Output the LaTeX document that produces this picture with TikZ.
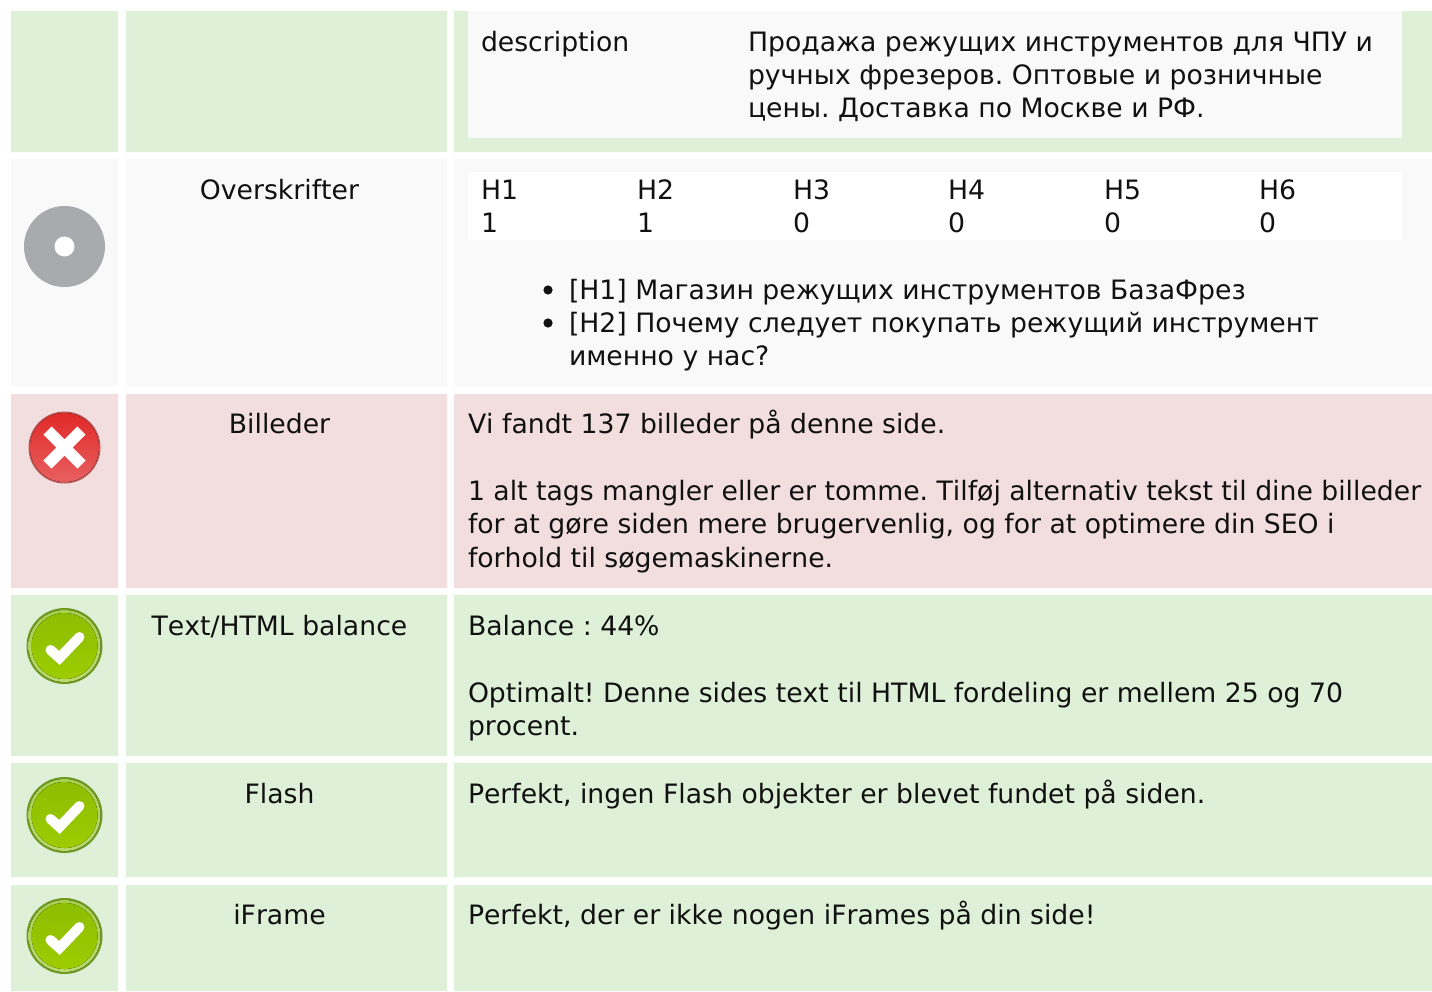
\documentclass[tikz,border=0pt]{standalone}
\usepackage{fontspec}
\setmainfont[Kerning=Off]{DejaVu Sans}
\definecolor{rowgreen}{HTML}{DFF0D8}
\definecolor{rowred}{HTML}{F2DEDE}
\definecolor{rowgrey}{HTML}{F9F9F9}
\definecolor{greydisc}{HTML}{A9AAAE}
\definecolor{txt}{HTML}{111111}
\definecolor{okouter}{HTML}{6E9A22}
\definecolor{okring}{HTML}{A9CF50}
\definecolor{okringb}{HTML}{B8DA70}
\definecolor{oktop}{HTML}{8DBD00}
\definecolor{okbot}{HTML}{9CCC00}
\definecolor{badouter}{HTML}{B85A5A}
\definecolor{badtop}{HTML}{E02A28}
\definecolor{badbot}{HTML}{E86060}
\tikzset{
  x=1pt,y=-1pt,
  txtline/.style={anchor=base west,inner sep=0pt,outer sep=0pt,text=txt,font=\fontsize{26.67}{33.4}\selectfont\frenchspacing},
  head/.style={anchor=base,inner sep=0pt,outer sep=0pt,text=txt,font=\fontsize{26.67}{33.4}\selectfont\frenchspacing},
  okicon/.pic={
    \fill[okouter] (0,0) circle[radius=38];
    \fill[top color=okring,bottom color=okringb] (0,0) circle[radius=36];
    \fill[top color=oktop,bottom color=okbot] (0,0) circle[radius=33];
    \draw[white,line width=10,line cap=round,line join=miter] (-14,4) -- (-5,12) -- (15,-9);
  },
  badicon/.pic={
    \fill[badouter] (0,0) circle[radius=36];
    \fill[top color=badtop,bottom color=badbot] (0,0) circle[radius=34.5];
    \draw[white,line width=11.5] (-17,-17) -- (17,17) (-17,17) -- (17,-17);
  }
}
\begin{document}
\begin{tikzpicture}
\useasboundingbox (0,0) rectangle (1432,991);
\fill[white] (0,0) rectangle (1432,991);
% row 1
\fill[rowgreen] (11,11) rectangle (118,152) (126,11) rectangle (447,152) (454,11) rectangle (1432,152);
\fill[rowgrey] (468,11) rectangle (1402,138);
% row 2
\fill[rowgrey] (11,159) rectangle (118,386) (126,159) rectangle (447,386) (454,159) rectangle (1432,386);
\fill[white] (468,172) rectangle (1402,240);
% row 3
\fill[rowred] (11,394) rectangle (118,588) (126,394) rectangle (447,588) (454,394) rectangle (1432,588);
% rows 4-6
\fill[rowgreen] (11,595) rectangle (118,756) (126,595) rectangle (447,756) (454,595) rectangle (1432,756);
\fill[rowgreen] (11,763) rectangle (118,877) (126,763) rectangle (447,877) (454,763) rectangle (1432,877);
\fill[rowgreen] (11,885) rectangle (118,991) (126,885) rectangle (447,991) (454,885) rectangle (1432,991);
% icons
\fill[greydisc] (64.5,246.5) circle[radius=40.5];
\fill[white] (64.5,246.5) circle[radius=10];
\pic at (64.5,447.5) {badicon};
\pic at (64.5,646) {okicon};
\pic at (64.5,815) {okicon};
\pic at (64.5,936) {okicon};
% row 1 text
\node[txtline] (d0) at (481,51) {description};
\node[txtline] (d1) at (748,51) {Продажа режущих инструментов для ЧПУ и};
\node[txtline] (d2) at (748,84) {ручных фрезеров. Оптовые и розничные};
\node[txtline] (d3) at (748,117) {цены. Доставка по Москве и РФ.};
% row 2 text
\node[head] (h0) at (279.5,199) {Overskrifter};
\node[txtline] (t1) at (481,199) {H1};
\node[txtline] (t2) at (637,199) {H2};
\node[txtline] (t3) at (793,199) {H3};
\node[txtline] (t4) at (948,199) {H4};
\node[txtline] (t5) at (1104,199) {H5};
\node[txtline] (t6) at (1259,199) {H6};
\node[txtline] (v1) at (481,232) {1};
\node[txtline] (v2) at (637,232) {1};
\node[txtline] (v3) at (793,232) {0};
\node[txtline] (v4) at (948,232) {0};
\node[txtline] (v5) at (1104,232) {0};
\node[txtline] (v6) at (1259,232) {0};
\fill[txt] (548,290) circle[radius=4.6] (548,323) circle[radius=4.6];
\node[txtline] (l1) at (569,299) {[H1] Магазин режущих инструментов БазаФрез};
\node[txtline] (l2) at (569,332) {[H2] Почему следует покупать режущий инструмент};
\node[txtline] (l3) at (569,365) {именно у нас?};
% row 3 text
\node[head] (h1) at (279.5,433) {Billeder};
\node[txtline] (b1) at (468,433) {Vi fandt 137 billeder på denne side.};
\node[txtline] (b2) at (468,500) {1 alt tags mangler eller er tomme. Tilføj alternativ tekst til dine billeder};
\node[txtline] (b3) at (468,533) {for at gøre siden mere brugervenlig, og for at optimere din SEO i};
\node[txtline] (b4) at (468,567) {forhold til søgemaskinerne.};
% row 4 text
\node[head] (h2) at (279.5,635) {Text/HTML balance};
\node[txtline] (c1) at (468,635) {Balance : 44\%};
\node[txtline] (c2) at (468,702) {Optimalt! Denne sides text til HTML fordeling er mellem 25 og 70};
\node[txtline] (c3) at (468,735) {procent.};
% row 5 text
\node[head] (h3) at (279.5,803) {Flash};
\node[txtline] (f1) at (468,803) {Perfekt, ingen Flash objekter er blevet fundet på siden.};
% row 6 text
\node[head] (h4) at (279.5,924) {iFrame};
\node[txtline] (i1) at (468,924) {Perfekt, der er ikke nogen iFrames på din side!};
\end{tikzpicture}
\end{document}
